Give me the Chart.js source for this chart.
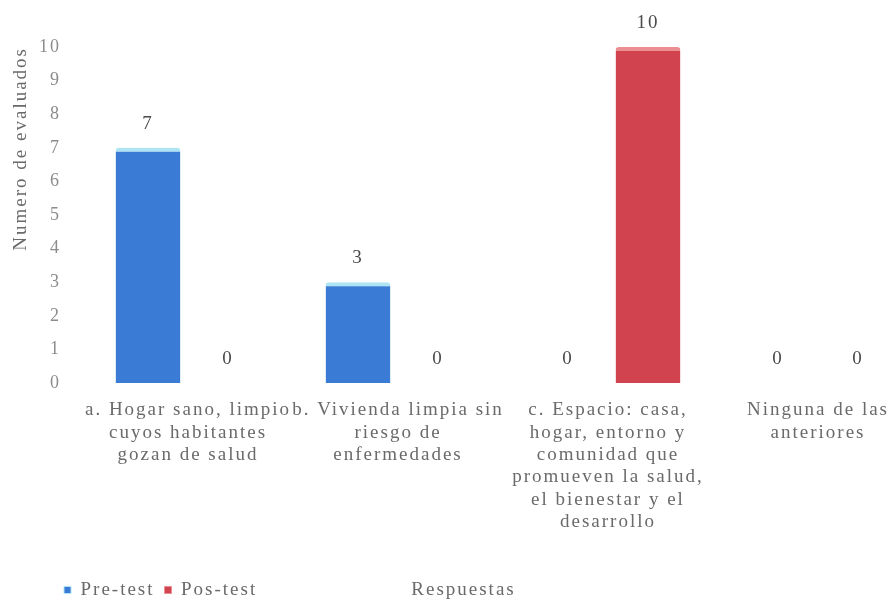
<!DOCTYPE html>
<html lang="es">
<head>
<meta charset="utf-8">
<script src="https://cdn.jsdelivr.net/npm/chart.js@4/dist/chart.umd.min.js"></script>
<style>
  html, body { margin: 0; padding: 0; background: #ffffff; overflow: hidden; }
  #wrap { width: 890px; height: 600px; overflow: hidden; }
  canvas { display: block; }
</style>
</head>
<body>
<div id="wrap"><canvas id="chart" width="935" height="600"></canvas></div>
<script>
// Answer options (multi-line labels)
const categories = [
  ['a. Hogar sano, limpio', 'cuyos habitantes', 'gozan de salud'],
  ['b. Vivienda limpia sin', 'riesgo de', 'enfermedades'],
  ['c. Espacio: casa,', 'hogar, entorno y', 'comunidad que', 'promueven la salud,', 'el bienestar y el', 'desarrollo'],
  ['Ninguna de las', 'anteriores']
];
const seriesNames = ['Pre-test', 'Pos-test'];
const preTest = [7, 3, 0, 0];
const posTest = [0, 0, 10, 0];
const yMin = 0;
const yMax = 10;
const yStep = 1;
const yTitle = 'Numero de evaluados';
const xTitle = 'Respuestas';

// Styling
const SERIF = '"Liberation Serif", "Times New Roman", serif';
const LETTER_SPACING = '2px';
const LEGEND_LEFT = 54;
const LEGEND_ROW_Y = 590;

// Wide, airy serif lettering everywhere on the canvas
const spacingPlugin = {
  id: 'spacing',
  beforeUpdate(chart) { chart.ctx.letterSpacing = LETTER_SPACING; },
  beforeLayout(chart) { chart.ctx.letterSpacing = LETTER_SPACING; },
  beforeDraw(chart) { chart.ctx.letterSpacing = LETTER_SPACING; }
};

// Legend sits in the bottom-left corner, on the same row as the axis title
const legendPlacePlugin = {
  id: 'legendPlace',
  afterLayout(chart) {
    const lg = chart.legend;
    if (!lg) return;
    const pad = lg.options.labels.padding;
    const fs = lg.options.labels.font.size;
    const dx = LEGEND_LEFT - lg.left;
    lg.left += dx; lg.right += dx;
    const newTop = LEGEND_ROW_Y - pad - fs / 2;
    const dy = newTop - lg.top;
    lg.top += dy; lg.bottom += dy;
  }
};

// Category-axis title, drawn beside the legend
const xTitlePlugin = {
  id: 'xTitle',
  afterDraw(chart) {
    const ctx = chart.ctx;
    ctx.save();
    ctx.letterSpacing = LETTER_SPACING;
    ctx.font = '19px ' + SERIF;
    ctx.fillStyle = '#6a6a6a';
    ctx.textAlign = 'center';
    ctx.textBaseline = 'middle';
    ctx.fillText(xTitle, chart.width / 2 - 4, LEGEND_ROW_Y);
    ctx.restore();
  }
};

// Value labels above every bar
const valueLabelPlugin = {
  id: 'valueLabels',
  afterDatasetsDraw(chart) {
    const ctx = chart.ctx;
    ctx.save();
    ctx.letterSpacing = LETTER_SPACING;
    ctx.font = '19px ' + SERIF;
    ctx.fillStyle = '#4a4a4a';
    ctx.textAlign = 'center';
    ctx.textBaseline = 'middle';
    chart.data.datasets.forEach((ds, i) => {
      chart.getDatasetMeta(i).data.forEach((bar, j) => {
        ctx.fillText(String(ds.data[j]), bar.x, bar.y - 24);
      });
    });
    ctx.restore();
  }
};

new Chart(document.getElementById('chart'), {
  type: 'bar',
  data: {
    labels: categories,
    datasets: [
      {
        label: seriesNames[0],
        data: preTest,
        backgroundColor: '#3a7bd5',
        borderColor: '#aee4f4',
        borderWidth: { top: 4, left: 0, right: 0, bottom: 0 },
        borderSkipped: false,
        borderRadius: { topLeft: 3, topRight: 3, bottomLeft: 0, bottomRight: 0 },
        categoryPercentage: 0.762,
        barPercentage: 0.81
      },
      {
        label: seriesNames[1],
        data: posTest,
        backgroundColor: '#d0434f',
        borderColor: '#ec8f92',
        borderWidth: { top: 4, left: 0, right: 0, bottom: 0 },
        borderSkipped: false,
        borderRadius: { topLeft: 3, topRight: 3, bottomLeft: 0, bottomRight: 0 },
        categoryPercentage: 0.762,
        barPercentage: 0.81
      }
    ]
  },
  options: {
    responsive: false,
    animation: false,
    devicePixelRatio: 1,
    layout: { padding: { top: 47, left: 10, right: 12, bottom: 0 } },
    plugins: {
      legend: {
        display: true,
        position: 'bottom',
        align: 'start',
        labels: {
          boxWidth: 7,
          boxHeight: 7,
          padding: 10,
          color: '#6a6a6a',
          font: { family: SERIF, size: 19 }
        }
      },
      tooltip: { enabled: false },
      title: { display: false }
    },
    scales: {
      x: {
        grid: { display: false, drawTicks: false },
        border: { display: false },
        ticks: {
          color: '#6a6a6a',
          font: { family: SERIF, size: 19, lineHeight: 1.18 },
          padding: 16,
          maxRotation: 0,
          autoSkip: false
        },
        afterFit(scale) { scale.height = 178; }
      },
      y: {
        min: yMin,
        max: yMax,
        grid: { display: false, drawTicks: false },
        border: { display: false },
        ticks: {
          stepSize: yStep,
          color: '#8c8c8c',
          font: { family: SERIF, size: 18 },
          padding: 22
        },
        title: {
          display: true,
          text: yTitle,
          align: 'end',
          color: '#6a6a6a',
          font: { family: SERIF, size: 19 },
          padding: { top: 0, bottom: 0 }
        },
        afterFit(scale) { scale.width = 73; }
      }
    }
  },
  plugins: [spacingPlugin, legendPlacePlugin, xTitlePlugin, valueLabelPlugin]
});
</script>
</body>
</html>
